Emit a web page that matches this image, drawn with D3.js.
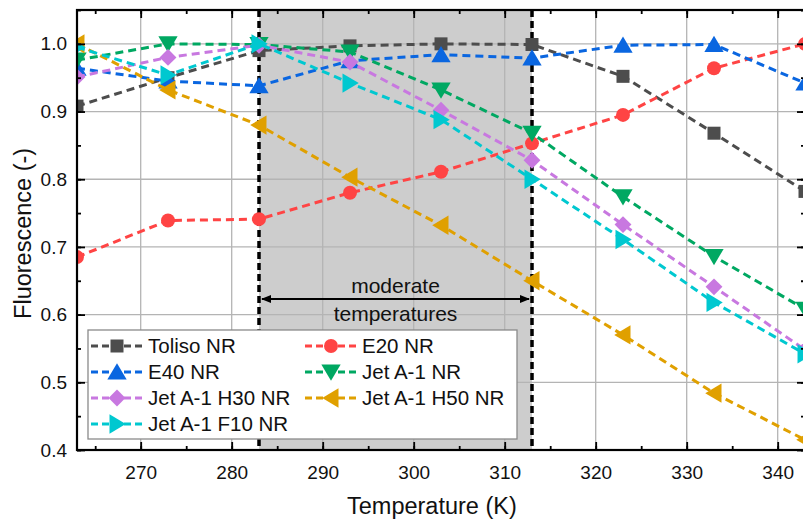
<!DOCTYPE html>
<html>
<head>
<meta charset="utf-8">
<script src="https://cdn.jsdelivr.net/npm/d3@7"></script>
<style>
body { margin: 0; background: #fff; }
text { font-family: "Liberation Sans", Arial, sans-serif; fill: #111; }
</style>
</head>
<body>
<svg id="chart"></svg>
<script>
// temperatures (K)
var temps = [263, 273, 283, 293, 303, 313, 323, 333, 343];

var toliso = [0.908, 0.950, 0.990, 0.997, 1.000, 0.999, 0.952, 0.868, 0.782];
var e20    = [0.685, 0.739, 0.741, 0.780, 0.811, 0.853, 0.895, 0.964, 1.000];
var e40    = [0.964, 0.945, 0.938, 0.975, 0.984, 0.979, 0.998, 0.999, 0.942];
var jet    = [0.976, 1.000, 0.999, 0.988, 0.932, 0.868, 0.774, 0.686, 0.608];
var h30    = [0.951, 0.980, 0.998, 0.973, 0.902, 0.828, 0.733, 0.641, 0.548];
var h50    = [1.000, 0.932, 0.880, 0.803, 0.732, 0.650, 0.570, 0.484, 0.415];
var f10    = [0.995, 0.954, 1.000, 0.942, 0.888, 0.800, 0.711, 0.618, 0.542];

var xTicks = [270, 280, 290, 300, 310, 320, 330, 340];
var yTicks = [0.4, 0.5, 0.6, 0.7, 0.8, 0.9, 1.0];
var moderate = [283, 313];

var series = [
  {name: "Toliso NR",       values: toliso, color: "#4d4d4d", symbol: "square"},
  {name: "E20 NR",          values: e20,    color: "#ff4444", symbol: "circle"},
  {name: "E40 NR",          values: e40,    color: "#0a66e0", symbol: "up"},
  {name: "Jet A-1 NR",      values: jet,    color: "#00a862", symbol: "down"},
  {name: "Jet A-1 H30 NR",  values: h30,    color: "#c878e0", symbol: "diamond"},
  {name: "Jet A-1 H50 NR",  values: h50,    color: "#e0a000", symbol: "left"},
  {name: "Jet A-1 F10 NR",  values: f10,    color: "#00c8d0", symbol: "right"}
];

var W = 803, H = 519;
var margin = {left: 77, top: 10, right: -2, bottom: 69};
var width = W - margin.left - margin.right;
var height = H - margin.top - margin.bottom;

var svg = d3.select("#chart").attr("width", W).attr("height", H);

var x = d3.scaleLinear().domain([263, 343]).range([0, width]);
var y = d3.scaleLinear().domain([0.4, 1.05]).range([height, 0]);

var g = svg.append("g").attr("transform", "translate(" + margin.left + "," + margin.top + ")");

g.append("clipPath").attr("id", "clip")
  .append("rect").attr("width", width).attr("height", height);

// shaded region
g.append("rect")
  .attr("x", x(moderate[0])).attr("y", 0)
  .attr("width", x(moderate[1]) - x(moderate[0]))
  .attr("height", height)
  .attr("fill", "#cdcdcd");

// grid
g.append("g").selectAll("line").data(xTicks).enter().append("line")
  .attr("x1", d => x(d)).attr("x2", d => x(d))
  .attr("y1", 0).attr("y2", height)
  .attr("stroke", "#b4b4b4").attr("stroke-width", 1.3);
g.append("g").selectAll("line").data(yTicks).enter().append("line")
  .attr("x1", 0).attr("x2", width)
  .attr("y1", d => y(d)).attr("y2", d => y(d))
  .attr("stroke", "#b4b4b4").attr("stroke-width", 1.3);

// moderate boundaries
g.append("g").selectAll("line").data(moderate).enter().append("line")
  .attr("x1", d => x(d)).attr("x2", d => x(d))
  .attr("y1", 0).attr("y2", height)
  .attr("stroke", "#000").attr("stroke-width", 3.5)
  .attr("stroke-dasharray", "7,4");

// arrow
var defs = svg.append("defs");
defs.append("marker").attr("id", "ah")
  .attr("viewBox", "0 0 10 10").attr("refX", 9).attr("refY", 5)
  .attr("markerWidth", 5).attr("markerHeight", 5)
  .attr("orient", "auto-start-reverse")
  .append("path").attr("d", "M0,1 L10,5 L0,9 z").attr("fill", "#000");
var arrowY = 289;
g.append("line")
  .attr("x1", x(moderate[0]) + 3).attr("x2", x(moderate[1]) - 3)
  .attr("y1", arrowY).attr("y2", arrowY)
  .attr("stroke", "#000").attr("stroke-width", 2)
  .attr("marker-start", "url(#ah)").attr("marker-end", "url(#ah)");
var mid = (x(moderate[0]) + x(moderate[1])) / 2;
g.append("text").attr("x", mid).attr("y", arrowY - 6)
  .attr("text-anchor", "middle").attr("font-size", 21).text("moderate");
g.append("text").attr("x", mid).attr("y", arrowY + 22)
  .attr("text-anchor", "middle").attr("font-size", 21).text("temperatures");

// symbols
function symbolPath(s, r) {
  if (s === "square") return "M" + (-r) + "," + (-r) + "h" + 2 * r + "v" + 2 * r + "h" + (-2 * r) + "z";
  if (s === "circle") return d3.symbol(d3.symbolCircle, Math.PI * r * r * 1.15)();
  if (s === "diamond") { var q = r * 1.3; return "M0," + (-q) + "L" + q + ",0L0," + q + "L" + (-q) + ",0z"; }
  var a = r * 1.35, b = r * 1.15;
  if (s === "up") return "M0," + (-a) + "L" + (a * 1.1) + "," + b + "L" + (-a * 1.1) + "," + b + "z";
  if (s === "down") return "M0," + a + "L" + (a * 1.1) + "," + (-b) + "L" + (-a * 1.1) + "," + (-b) + "z";
  if (s === "left") return "M" + (-a) + ",0L" + b + "," + (a * 1.1) + "L" + b + "," + (-a * 1.1) + "z";
  if (s === "right") return "M" + a + ",0L" + (-b) + "," + (a * 1.1) + "L" + (-b) + "," + (-a * 1.1) + "z";
}

var line = d3.line().x((d, i) => x(temps[i])).y(d => y(d));

var plot = g.append("g").attr("clip-path", "url(#clip)");
series.forEach(function (s) {
  var sg = plot.append("g");
  sg.append("path").datum(s.values)
    .attr("d", line).attr("fill", "none")
    .attr("stroke", s.color).attr("stroke-width", 3)
    .attr("stroke-dasharray", "8,5");
  sg.selectAll("path.m").data(s.values).enter().append("path")
    .attr("class", "m")
    .attr("transform", (d, i) => "translate(" + x(temps[i]) + "," + y(d) + ")")
    .attr("d", symbolPath(s.symbol, 6.5))
    .attr("fill", s.color);
});

// axes with inward ticks
var xMinor = d3.range(265, 345, 5);
var yMinor = d3.range(0.4, 1.051, 0.05);
g.append("g").attr("transform", "translate(0," + height + ")")
  .call(d3.axisBottom(x).tickValues(xMinor).tickSize(-4).tickFormat(""));
g.append("g").attr("transform", "translate(0," + height + ")")
  .call(d3.axisBottom(x).tickValues(xTicks).tickSize(-8).tickPadding(16).tickFormat(d3.format("d")));
g.append("g")
  .call(d3.axisTop(x).tickValues(xTicks).tickSize(-8).tickFormat(""));
g.append("g").call(d3.axisTop(x).tickValues(xMinor).tickSize(-4).tickFormat(""));
g.append("g")
  .call(d3.axisLeft(y).tickValues(yTicks).tickSize(-8).tickPadding(10).tickFormat(d3.format(".1f")));
g.append("g").call(d3.axisLeft(y).tickValues(yMinor).tickSize(-4).tickFormat(""));
g.append("g").attr("transform", "translate(" + width + ",0)")
  .call(d3.axisRight(y).tickValues(yTicks).tickSize(-8).tickFormat(""));
g.append("g").attr("transform", "translate(" + width + ",0)")
  .call(d3.axisRight(y).tickValues(yMinor).tickSize(-4).tickFormat(""));

g.selectAll(".domain").remove();
g.selectAll(".tick line").attr("stroke", "#000").attr("stroke-width", 1.8);
g.selectAll(".tick text").attr("font-size", 19).attr("fill", "#111")
  .attr("font-family", "Liberation Sans, Arial, sans-serif");

// frame
g.append("rect").attr("width", width).attr("height", height)
  .attr("fill", "none").attr("stroke", "#000").attr("stroke-width", 2.2);

// axis titles
svg.append("text")
  .attr("x", margin.left + x(302)).attr("y", 514)
  .attr("text-anchor", "middle").attr("font-size", 23.5)
  .text("Temperature (K)");
svg.append("text")
  .attr("transform", "translate(31," + (margin.top + y(0.72)) + ") rotate(-90)")
  .attr("text-anchor", "middle").attr("font-size", 23.5)
  .text("Fluorescence (-)");

// legend
var lg = g.append("g").attr("transform", "translate(11,320)");
lg.append("rect").attr("width", 429).attr("height", 109)
  .attr("fill", "#fff").attr("stroke", "#8a8a8a").attr("stroke-width", 1.3);
series.forEach(function (s, i) {
  var col = i % 2, row = Math.floor(i / 2);
  var ox = col === 0 ? 3 : 217;
  var oy = 16 + row * 26;
  var it = lg.append("g").attr("transform", "translate(" + ox + "," + oy + ")");
  it.append("line").attr("x1", 0).attr("x2", 52).attr("y1", 0).attr("y2", 0)
    .attr("stroke", s.color).attr("stroke-width", 3).attr("stroke-dasharray", "7,4");
  it.append("path").attr("transform", "translate(26,0)")
    .attr("d", symbolPath(s.symbol, 6.5)).attr("fill", s.color);
  it.append("text").attr("x", 57).attr("y", 7)
    .attr("font-size", 20.5).text(s.name);
});
</script>
</body>
</html>
